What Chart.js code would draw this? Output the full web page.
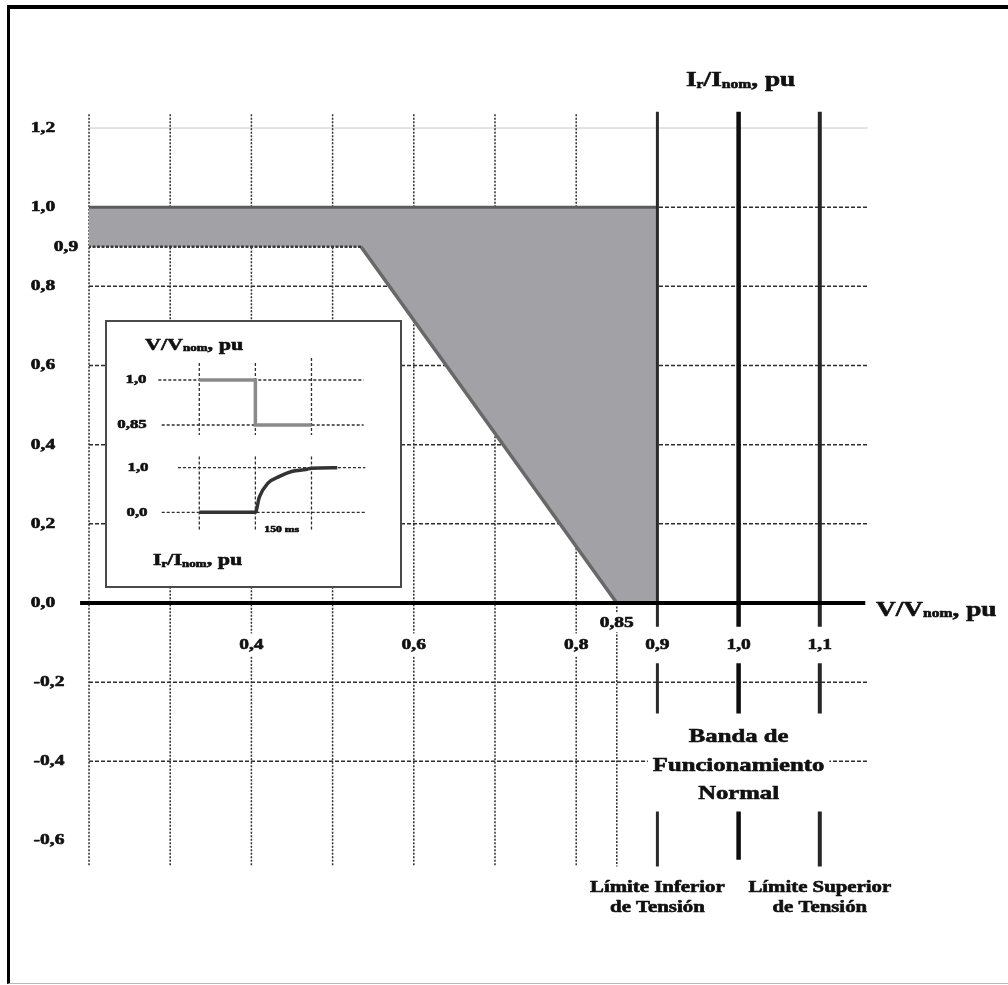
<!DOCTYPE html>
<html>
<head>
<meta charset="utf-8">
<title>Banda de Funcionamiento Normal</title>
<script src="https://cdn.jsdelivr.net/npm/chart.js@4.4.1/dist/chart.umd.min.js"></script>
<style>
  html, body { margin: 0; padding: 0; background: #fff; }
  body { width: 1008px; height: 985px; position: relative; overflow: hidden; }
  #main { position: absolute; left: 0; top: 0; }
  #frame {
    position: absolute; left: 7px; top: 5px; width: 1001px; height: 979px;
    box-sizing: border-box; pointer-events: none;
    border-top: 4px solid #000; border-left: 3px solid #000; border-bottom: 1px solid #b8b8b8;
  }
  #inset {
    position: absolute; left: 105px; top: 320px; width: 293px; height: 264px;
    border: 2px solid #4a4a4a; background: #fff;
  }
  #insetChart { position: absolute; left: 0; top: 0; }
</style>
</head>
<body>
<canvas id="main" width="1008" height="985"></canvas>
<div id="inset"><canvas id="insetChart" width="293" height="264"></canvas></div>
<div id="frame"></div>
<script>
// ---- main diagram (V/Vnom vs Ir/Inom, pu) ----
const xTickValues = [0.4, 0.6, 0.8, 0.9, 1.0, 1.1];
const xTickLabels = ['0,4', '0,6', '0,8', '0,9', '1,0', '1,1'];
const yTickValues = [1.2, 1.0, 0.9, 0.8, 0.6, 0.4, 0.2, 0.0, -0.2, -0.4, -0.6];
const yTickLabels = ['1,2', '1,0', '0,9', '0,8', '0,6', '0,4', '0,2', '0,0', '-0,2', '-0,4', '-0,6'];
const gridX = [0.2, 0.3, 0.4, 0.5, 0.6, 0.7, 0.8];
const gridY = [1.0, 0.8, 0.6, 0.4, 0.2, -0.2, -0.4];
const limitX = [0.9, 1.0, 1.1];
const kneeV = 0.85;

// shaded zone outline, walked clockwise from the top-left corner
const zoneV = [0.2, 0.9, 0.9, 0.85, 0.535, 0.2];
const zoneI = [1.0, 1.0, 0.0, 0.0, 0.9, 0.9];

// ---- inset: voltage dip and current recovery (t in steps of 150 ms) ----
const insetT = [-1, 0, 1];
const stepT = [-1, 0, 0, 1];
const stepV = [1.0, 1.0, 0.85, 0.85];
const riseT = [-1, 0, 0.07, 0.22, 0.44, 0.66, 0.9, 1.0, 1.46];
const riseI = [0, 0, 0.34, 0.65, 0.81, 0.92, 0.96, 0.99, 1.0];
const insetVTicks = [1.0, 0.85];
const insetVLabels = ['1,0', '0,85'];
const insetITicks = [1.0, 0.0];
const insetILabels = ['1,0', '0,0'];

const SERIF = '"Liberation Serif", "Times New Roman", serif';
const SX = 1.3;           // the lettering is drawn a bit wide
const INK = '#111';

const pts = (xs, ys) => xs.map((x, i) => ({ x: x, y: ys[i] }));

// several segments in one dataset, split by null points
function segments(list) {
    const out = [];
    list.forEach(s => {
        out.push(...s);
        out.push({ x: s[s.length - 1].x, y: null });
    });
    return out;
}

function lineSet(data, color, width, dash, extra) {
    return Object.assign({
        data: data,
        borderColor: color,
        borderWidth: width,
        borderDash: dash || [],
        borderCapStyle: 'butt',
        pointRadius: 0,
        fill: false,
        tension: 0,
        spanGaps: false
    }, extra || {});
}

// heavy glyphs: fill plus a thin outline of the same ink
function ink(ctx, str) {
    ctx.fillStyle = INK;
    ctx.strokeStyle = INK;
    ctx.lineWidth = 0.6;
    ctx.lineJoin = 'round';
    ctx.fillText(str, 0, 0);
    ctx.strokeText(str, 0, 0);
}

// bold serif text, stretched horizontally, optional white box behind it
function put(ctx, str, x, y, size, align, pad) {
    ctx.save();
    ctx.font = 'bold ' + size + 'px ' + SERIF;
    const w = ctx.measureText(str).width * SX;
    const left = align === 'center' ? x - w / 2 : align === 'right' ? x - w : x;
    if (pad) {
        ctx.fillStyle = '#fff';
        ctx.fillRect(left - pad, y - size / 2 - pad, w + pad * 2, size + pad * 2);
    }
    ctx.translate(left, y);
    ctx.scale(SX, 1);
    ctx.textAlign = 'left';
    ctx.textBaseline = 'middle';
    ink(ctx, str);
    ctx.restore();
}

// text runs with small subscripts: [text, size, dy]
function rich(ctx, parts, x, y) {
    ctx.save();
    ctx.textBaseline = 'alphabetic';
    ctx.textAlign = 'left';
    let cx = x;
    parts.forEach(p => {
        ctx.font = 'bold ' + p[1] + 'px ' + SERIF;
        ctx.save();
        ctx.translate(cx, y + (p[2] || 0));
        ctx.scale(SX, 1);
        ink(ctx, p[0]);
        ctx.restore();
        cx += ctx.measureText(p[0]).width * SX;
    });
    ctx.restore();
}

// extents of the drawn grid, in axis units
const GRID_LEFT = 0.2, GRID_RIGHT = 1.159;
const GRID_TOP = 1.235, GRID_BOTTOM = -0.666;
const AXIS_LEFT = 0.189, AXIS_RIGHT = 1.156;
const X_LABEL_AT = -0.106;

const gridH = segments(gridY.map(y => [{ x: GRID_LEFT, y: y }, { x: GRID_RIGHT, y: y }]));
const gridV = segments(gridX.map(x => [{ x: x, y: GRID_TOP }, { x: x, y: GRID_BOTTOM }])
    .concat([[{ x: kneeV, y: 0 }, { x: kneeV, y: GRID_BOTTOM }]]));

function limitLine(x, bottom) {
    return segments([
        [{ x: x, y: 1.241 }, { x: x, y: -0.06 }],
        [{ x: x, y: -0.152 }, { x: x, y: -0.279 }],
        [{ x: x, y: -0.527 }, { x: x, y: bottom }]
    ]);
}

const zone = pts(zoneV, zoneI);

const mainLabels = {
    id: 'mainLabels',
    afterDatasetsDraw(chart) {
        const ctx = chart.ctx;
        const xs = chart.scales.x;
        const ys = chart.scales.y;

        yTickValues.forEach((v, i) => {
            const cx = v === 0.9 ? 66 : (v < 0 ? 49 : 43);
            put(ctx, yTickLabels[i], cx, ys.getPixelForValue(v), 15, 'center');
        });
        xTickValues.forEach((v, i) => {
            put(ctx, xTickLabels[i], xs.getPixelForValue(v), ys.getPixelForValue(X_LABEL_AT), 15, 'center', 4);
        });
        put(ctx, '0,85', xs.getPixelForValue(kneeV), ys.getPixelForValue(-0.05), 15, 'center', 2);

        const bx = xs.getPixelForValue(1.0);
        put(ctx, 'Banda de', bx, 737, 19, 'center', 3);
        put(ctx, 'Funcionamiento', bx, 766, 19, 'center', 5);
        put(ctx, 'Normal', bx, 794, 19, 'center', 3);

        const lx = xs.getPixelForValue(0.9), ux = xs.getPixelForValue(1.1);
        put(ctx, 'Límite Inferior', lx, 888, 16, 'center');
        put(ctx, 'de Tensión', lx, 908, 16, 'center');
        put(ctx, 'Límite Superior', ux, 888, 16, 'center');
        put(ctx, 'de Tensión', ux, 908, 16, 'center');

        rich(ctx, [['V/V', 21], ['nom', 12, 1], [', pu', 21]], 876, 616);
        rich(ctx, [['I', 21], ['r', 12, 2], ['/I', 21], ['nom', 12, 2], [', pu', 21]], 686, 86);
    }
};

new Chart(document.getElementById('main'), {
    type: 'line',
    data: {
        datasets: [
            lineSet([{ x: GRID_LEFT, y: 1.2 }, { x: GRID_RIGHT, y: 1.2 }], '#c8c8c8', 1, null, { order: 12 }),
            lineSet(gridH, '#2e2e2e', 1.5, [4, 2], { order: 11 }),
            lineSet(gridV, '#2e2e2e', 1.5, [2, 1.5], { order: 10 }),
            lineSet(zone, 'rgba(0,0,0,0)', 0, null, { fill: 'shape', backgroundColor: '#a2a2a6', order: 8 }),
            lineSet(zone.slice(0, 2), '#5c5c5c', 3, null, { order: 6 }),
            lineSet(zone.slice(4, 6), '#3a3a3a', 2.5, [3, 1.5], { order: 6 }),
            lineSet(zone.slice(3, 5), '#686868', 3.5, null, { order: 6 }),
            lineSet(limitLine(limitX[0], -0.666), '#2a2a2a', 3, null, { order: 4 }),
            lineSet(limitLine(limitX[1], -0.649), '#0e0e0e', 4.5, null, { order: 4 }),
            lineSet(limitLine(limitX[2], -0.666), '#262626', 4, null, { order: 4 }),
            lineSet([{ x: AXIS_LEFT, y: 0 }, { x: AXIS_RIGHT, y: 0 }], '#000', 4, null, { order: 2 })
        ]
    },
    options: {
        responsive: false,
        animation: false,
        devicePixelRatio: 1,
        events: [],
        layout: { padding: { left: 48.4, right: 107, top: 88.46, bottom: 104.94 } },
        scales: {
            x: { type: 'linear', min: 0.15, max: 1.2, display: false },
            y: { type: 'linear', min: -0.7, max: 1.3, display: false }
        },
        plugins: { legend: { display: false }, tooltip: { enabled: false } }
    },
    plugins: [mainLabels]
});

// ---- inset chart ----
const insetLabels = {
    id: 'insetLabels',
    afterDatasetsDraw(chart) {
        const ctx = chart.ctx;
        const xs = chart.scales.x;
        const yv = chart.scales.yv;
        const yi = chart.scales.yi;
        rich(ctx, [['V/V', 17], ['nom', 10, 1], [', pu', 17]], 38, 28);
        put(ctx, insetVLabels[0], 29, yv.getPixelForValue(insetVTicks[0]), 13, 'center');
        put(ctx, insetVLabels[1], 25, yv.getPixelForValue(insetVTicks[1]), 13, 'center');
        put(ctx, insetILabels[0], 31, yi.getPixelForValue(insetITicks[0]), 13, 'center');
        put(ctx, insetILabels[1], 30, yi.getPixelForValue(insetITicks[1]), 13, 'center');
        put(ctx, '150 ms', xs.getPixelForValue(0.47), yi.getPixelForValue(-0.4), 9, 'center');
        rich(ctx, [['I', 17], ['r', 10, 2], ['/I', 17], ['nom', 10, 2], [', pu', 17]], 46, 243);
    }
};

const vGrid = segments([
    [{ x: -1.73, y: insetVTicks[0] }, { x: 1.93, y: insetVTicks[0] }],
    [{ x: -1.67, y: insetVTicks[1] }, { x: 1.93, y: insetVTicks[1] }]
].concat(insetT.map(t => [{ x: t, y: t === 1 ? 1.073 : 1.057 }, { x: t, y: 0.817 }])));

const iGrid = segments([
    [{ x: -1.38, y: insetITicks[0] }, { x: 1.96, y: insetITicks[0] }],
    [{ x: -1.67, y: insetITicks[1] }, { x: 1.96, y: insetITicks[1] }]
].concat(insetT.map(t => [{ x: t, y: 1.25 }, { x: t, y: -0.4 }])));

new Chart(document.getElementById('insetChart'), {
    type: 'line',
    data: {
        datasets: [
            lineSet(vGrid, '#2e2e2e', 1.3, [3, 2], { yAxisID: 'yv', order: 10 }),
            lineSet(iGrid, '#2e2e2e', 1.3, [3, 2], { yAxisID: 'yi', order: 10 }),
            lineSet(pts(stepT, stepV), '#8a8a8a', 3.5, null, { yAxisID: 'yv', order: 2 }),
            lineSet(pts(riseT, riseI), '#333', 3.5, null, { yAxisID: 'yi', cubicInterpolationMode: 'monotone', order: 2 })
        ]
    },
    options: {
        responsive: false,
        animation: false,
        devicePixelRatio: 1,
        events: [],
        layout: { padding: 0 },
        scales: {
            x: { type: 'linear', min: -2.645, max: 2.578, display: false },
            yv: { type: 'linear', position: 'left', min: 0.3133, max: 1.1933, display: false },
            yi: { type: 'linear', position: 'left', min: -1.652, max: 4.267, display: false }
        },
        plugins: { legend: { display: false }, tooltip: { enabled: false } }
    },
    plugins: [insetLabels]
});
</script>
</body>
</html>
